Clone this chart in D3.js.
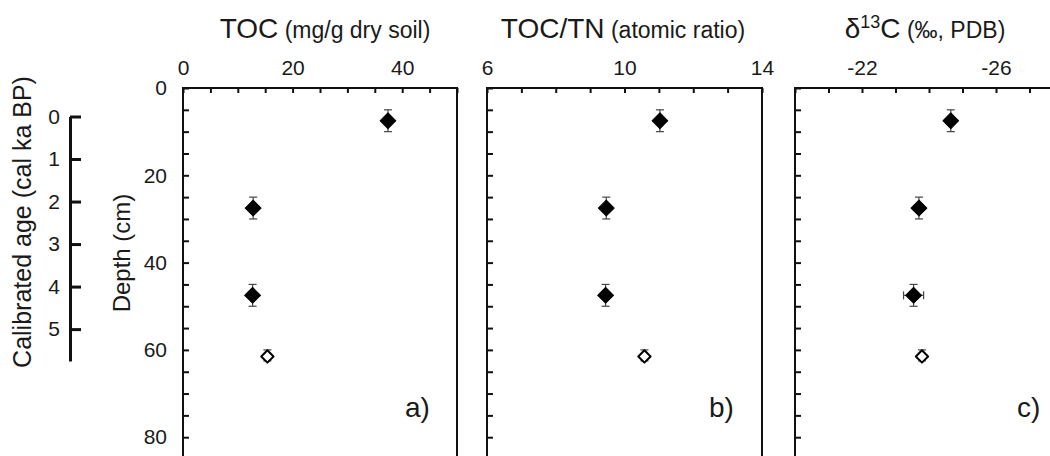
<!DOCTYPE html>
<html>
<head>
<meta charset="utf-8">
<script src="https://cdn.jsdelivr.net/npm/d3@7"></script>
<style>
  html, body { margin: 0; padding: 0; background: #fff; }
  svg text { font-family: "Liberation Sans", Arial, Helvetica, sans-serif; fill: #1a1a1a; }
</style>
</head>
<body>
<svg id="chart"></svg>
<script>
// sample depth ranges (cm), mid points and whether the marker is filled
const depthTop = [5, 25, 45, 60];
const depthBottom = [10, 30, 50, 62.5];
const depthMid = [7.5, 27.5, 47.5, 61.5];
const filled = [true, true, true, false];

// measured values per panel
const toc = [37.4, 12.8, 12.7, 15.4];
const tocTn = [11.03, 9.47, 9.45, 10.58];
const d13c = [-24.65, -23.70, -23.54, -23.79];
const d13cErr = [0, 0, 0.3, 0];

// tick labels
const depthLabels = [0, 20, 40, 60, 80];
const ageLabels = [0, 1, 2, 3, 4, 5];
const tocLabels = [0, 20, 40];
const ratioLabels = [6, 10, 14];
const d13cLabels = [-22, -26];
const panelLetters = ['a)', 'b)', 'c)'];

const svg = d3.select('#chart')
  .attr('width', 1050)
  .attr('height', 456);

const y = d3.scaleLinear().domain([0, 90]).range([88, 88 + 90 * 4.365]);
const age = d3.scaleLinear().domain([0, 5.75]).range([116.5, 361]);

const panels = [
  { x: d3.scaleLinear().domain([0, 50]).range([183, 457]), step: 5, labels: tocLabels,
    values: toc, err: null, title: 'TOC', sub: '(mg/g dry soil)', tx: 325 },
  { x: d3.scaleLinear().domain([6, 14]).range([487, 762]), step: 1, labels: ratioLabels,
    values: tocTn, err: null, title: 'TOC/TN', sub: '(atomic ratio)', tx: 623 },
  { x: d3.scaleLinear().domain([-20, -28]).range([795, 1063]), step: 1, labels: d13cLabels,
    values: d13c, err: d13cErr, title: null, sub: '(‰, PDB)', tx: 925 }
];

// square turned 45 degrees gives the even diamond of the original
const diamond = d3.symbol().type(d3.symbolSquare);

panels.forEach((p, i) => {
  const g = svg.append('g');
  const [x0, x1] = p.x.range();
  const [dMin, dMax] = p.x.domain();
  const xTicks = d3.range(Math.min(dMin, dMax), Math.max(dMin, dMax) + 0.001, p.step);

  // top axis, ticks pointing into the frame
  g.append('g')
    .attr('transform', `translate(0,${y(0)})`)
    .call(d3.axisTop(p.x)
      .tickValues(xTicks)
      .tickSizeInner(-5)
      .tickSizeOuter(0)
      .tickPadding(13)
      .tickFormat(d => p.labels.includes(Math.round(d)) && Math.abs(d - Math.round(d)) < 1e-6 ? String(Math.round(d)) : ''))
    .call(a => a.select('.domain').remove())
    .call(a => a.selectAll('line').attr('stroke', '#111').attr('stroke-width', 2))
    .call(a => a.selectAll('text').attr('font-size', 21).style('font-family', null));

  // left axis (depth) - labels only on the first panel
  g.append('g')
    .attr('transform', `translate(${x0},0)`)
    .call(d3.axisLeft(y)
      .tickValues(d3.range(0, 91, 5))
      .tickSizeInner(-6)
      .tickSizeOuter(0)
      .tickPadding(16)
      .tickFormat(d => i === 0 && depthLabels.includes(d) ? d : ''))
    .call(a => a.select('.domain').remove())
    .call(a => a.selectAll('line').attr('stroke', '#111').attr('stroke-width', 2))
    .call(a => a.selectAll('text').attr('font-size', 21).style('font-family', null));

  // frame
  g.append('rect')
    .attr('x', x0)
    .attr('y', y(0))
    .attr('width', x1 - x0)
    .attr('height', y(90) - y(0))
    .attr('fill', 'none')
    .attr('stroke', '#111')
    .attr('stroke-width', 2);

  // depth range error bars
  const pts = p.values.map((v, k) => ({ v, k }));
  const eb = g.append('g').attr('stroke', '#444').attr('stroke-width', 1.2);
  eb.selectAll('.vbar').data(pts).enter().append('line')
    .attr('x1', d => p.x(d.v)).attr('x2', d => p.x(d.v))
    .attr('y1', d => y(depthTop[d.k])).attr('y2', d => y(depthBottom[d.k]));
  eb.selectAll('.vcapT').data(pts).enter().append('line')
    .attr('x1', d => p.x(d.v) - 4).attr('x2', d => p.x(d.v) + 4)
    .attr('y1', d => y(depthTop[d.k])).attr('y2', d => y(depthTop[d.k]));
  eb.selectAll('.vcapB').data(pts).enter().append('line')
    .attr('x1', d => p.x(d.v) - 4).attr('x2', d => p.x(d.v) + 4)
    .attr('y1', d => y(depthBottom[d.k])).attr('y2', d => y(depthBottom[d.k]));

  if (p.err) {
    const hp = pts.filter(d => p.err[d.k] > 0);
    eb.selectAll('.hbar').data(hp).enter().append('line')
      .attr('x1', d => p.x(d.v - p.err[d.k])).attr('x2', d => p.x(d.v + p.err[d.k]))
      .attr('y1', d => y(depthMid[d.k])).attr('y2', d => y(depthMid[d.k]));
    hp.forEach(d => {
      [d.v - p.err[d.k], d.v + p.err[d.k]].forEach(e => {
        eb.append('line')
          .attr('x1', p.x(e)).attr('x2', p.x(e))
          .attr('y1', y(depthMid[d.k]) - 4).attr('y2', y(depthMid[d.k]) + 4);
      });
    });
  }

  // markers
  g.selectAll('.dot').data(pts).enter().append('path')
    .attr('d', d => diamond.size(filled[d.k] ? 125 : 75)())
    .attr('transform', d => `translate(${p.x(d.v)},${y(depthMid[d.k])}) rotate(45)`)
    .attr('fill', d => filled[d.k] ? '#000' : '#fff')
    .attr('stroke', '#000')
    .attr('stroke-linejoin', 'round')
    .attr('stroke-width', d => filled[d.k] ? 1 : 2);

  // panel letter
  g.append('text')
    .attr('x', x0 + 222)
    .attr('y', 417)
    .attr('font-size', 28)
    .text(panelLetters[i]);

  // title
  const t = g.append('text')
    .attr('x', p.tx)
    .attr('y', 38)
    .attr('text-anchor', 'middle');
  if (p.title) {
    t.append('tspan').attr('font-size', 28).text(p.title);
  } else {
    t.append('tspan').attr('font-size', 28).text('δ');
    t.append('tspan').attr('font-size', 18).attr('dy', -10).text('13');
    t.append('tspan').attr('font-size', 28).attr('dy', 10).text('C');
  }
  t.append('tspan').attr('font-size', 23).text(' ' + p.sub);
});

// depth label
svg.append('text')
  .attr('transform', 'translate(130,253) rotate(-90)')
  .attr('text-anchor', 'middle')
  .attr('font-size', 24)
  .text('Depth (cm)');

// calibrated age axis
svg.append('g')
  .attr('transform', 'translate(70,0)')
  .call(d3.axisLeft(age)
    .tickValues(ageLabels)
    .tickSizeInner(-11)
    .tickSizeOuter(0)
    .tickPadding(10)
    .tickFormat(d3.format('d')))
  .call(a => a.select('.domain').attr('stroke', '#111').attr('stroke-width', 3))
  .call(a => a.selectAll('line').attr('stroke', '#111').attr('stroke-width', 3))
  .call(a => a.selectAll('text').attr('font-size', 21).style('font-family', null));

svg.append('text')
  .attr('transform', 'translate(31,222) rotate(-90)')
  .attr('text-anchor', 'middle')
  .attr('font-size', 25)
  .text('Calibrated age (cal ka BP)');
</script>
</body>
</html>
